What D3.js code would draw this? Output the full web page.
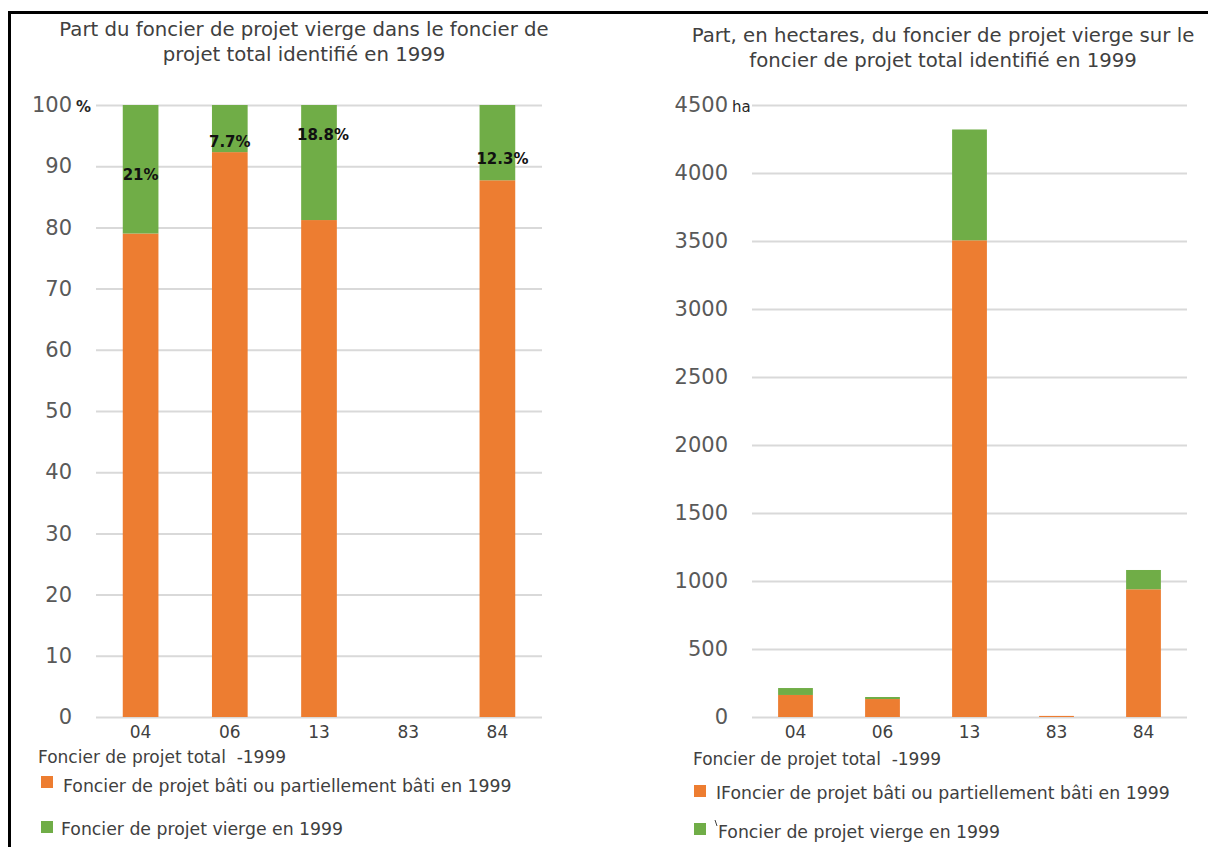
<!DOCTYPE html>
<html>
<head>
<meta charset="utf-8">
<script src="https://cdn.jsdelivr.net/npm/d3@7/dist/d3.min.js"></script>
<style>
  html, body { margin: 0; padding: 0; background: #fff; }
  svg { display: block; font-family: "DejaVu Sans", "Open Sans", sans-serif; }
  .pre { white-space: pre; }
</style>
</head>
<body>
<svg id="chart" width="1208" height="847"></svg>
<script>
// ---------- DATA ----------
const categories = ["04", "06", "13", "83", "84"];

// Left chart: share (%) of total identified project land
const pctBati   = [79.0, 92.3, 81.2, null, 87.7];
const pctVierge = [21.0, 7.7, 18.8, null, 12.3];
const pctLabels = ["21%", "7.7%", "18.8%", null, "12.3%"];
const pctLabelAt = [88.6, 94.0, 95.1, null, 91.2];   // value where each label sits
const pctTicks = [0, 10, 20, 30, 40, 50, 60, 70, 80, 90, 100];

// Right chart: hectares
const haBati   = [162, 132, 3505, 8, 939];
const haVierge = [51, 15, 815, 0, 142];
const haTicks = [0, 500, 1000, 1500, 2000, 2500, 3000, 3500, 4000, 4500];

const seriesNames = ["Foncier de projet bâti ou partiellement bâti en 1999", "Foncier de projet vierge en 1999"];
const axisTitle = "Foncier de projet total  -1999";
const titleLeft = ["Part du foncier de projet vierge dans le foncier de", "projet total identifié en 1999"];
const titleRight = ["Part, en hectares, du foncier de projet vierge sur le", "foncier de projet total identifié en 1999"];

// ---------- STYLE ----------
const ORANGE = "#ED7D31", GREEN = "#70AD47", GRID = "#D9D9D9";
const svg = d3.select("#chart");

// frame lines
svg.append("line").attr("x1", 8).attr("x2", 1208).attr("y1", 12.5).attr("y2", 12.5)
  .attr("stroke", "#000").attr("stroke-width", 3);
svg.append("line").attr("x1", 9.5).attr("x2", 9.5).attr("y1", 11).attr("y2", 847)
  .attr("stroke", "#000").attr("stroke-width", 3);

function drawChart(cfg) {
  const g = svg.append("g");
  const x = d3.scaleBand().domain(categories).range([cfg.x0, cfg.x1])
    .paddingInner(0.6).paddingOuter(0.3);
  const y = d3.scaleLinear().domain([0, cfg.max]).range([717, 105]);

  // title
  g.append("text").attr("x", cfg.titleX).attr("y", cfg.titleY)
    .attr("text-anchor", "middle").attr("fill", "#404040").attr("font-size", 19.7)
    .selectAll("tspan").data(cfg.title).join("tspan")
    .attr("x", cfg.titleX).attr("dy", (d, i) => i ? 25 : 0).text(d => d);

  // grid + y ticks
  const ya = g.append("g").attr("transform", `translate(${cfg.x0},0)`)
    .call(d3.axisLeft(y).tickValues(cfg.ticks).tickFormat(d3.format("d"))
      .tickSize(-(cfg.x1 - cfg.x0)).tickPadding(24));
  ya.select(".domain").remove();
  ya.selectAll(".tick line").attr("stroke", GRID).attr("stroke-width", 2);
  ya.selectAll(".tick text").attr("fill", "#595959").attr("font-size", 21)
    .attr("font-family", "DejaVu Sans");

  // unit label beside top tick
  g.append("text").attr("x", cfg.unitX).attr("y", y(cfg.max)).attr("dy", "0.45em")
    .attr("fill", "#262626").attr("font-size", 15).attr("font-weight", cfg.unitBold ? "bold" : "normal")
    .text(cfg.unit);

  // x axis labels
  const xa = g.append("g").attr("transform", `translate(0,717)`)
    .call(d3.axisBottom(x).tickSize(0).tickPadding(9));
  xa.select(".domain").remove();
  xa.selectAll(".tick text").attr("fill", "#404040").attr("font-size", 17)
    .attr("font-family", "DejaVu Sans");

  // bars
  const rows = categories.map((c, i) => ({ c, a: cfg.a[i], b: cfg.b[i] }));
  g.selectAll(".ba").data(rows.filter(r => r.a != null && r.a > 0)).join("rect")
    .attr("x", d => x(d.c)).attr("width", x.bandwidth())
    .attr("y", d => y(d.a)).attr("height", d => y(0) - y(d.a)).attr("fill", ORANGE);
  g.selectAll(".bb").data(rows.filter(r => r.b != null && r.b > 0)).join("rect")
    .attr("x", d => x(d.c)).attr("width", x.bandwidth())
    .attr("y", d => y(d.a + d.b)).attr("height", d => y(d.a) - y(d.a + d.b)).attr("fill", GREEN);

  // data labels
  if (cfg.labels) {
    const dxs = [0, 0, 4, 0, 5];
    g.selectAll(".lbl").data(categories.map((c, i) => ({ c, t: cfg.labels[i], v: cfg.labelAt[i], dx: dxs[i] }))
      .filter(d => d.t)).join("text")
      .attr("x", d => x(d.c) + x.bandwidth() / 2 + d.dx).attr("y", d => y(d.v)).attr("dy", "0.35em")
      .attr("text-anchor", "middle").attr("font-size", 15).attr("font-weight", "bold").attr("fill", "#111")
      .text(d => d.t);
  }

  // axis title
  g.append("text").attr("class", "pre").attr("x", cfg.axTitleX).attr("y", cfg.axTitleY).attr("dy", "0.35em")
    .attr("fill", "#404040").attr("font-size", 17).text(axisTitle);

  // legend
  const lg = g.selectAll(".leg").data(cfg.legend).join("g");
  lg.append("rect").attr("x", d => d.sx).attr("y", d => d.sy - 6).attr("width", 12).attr("height", 12)
    .attr("fill", d => d.color);
  lg.append("text").attr("x", d => d.tx).attr("y", d => d.ty).attr("dy", "0.35em")
    .attr("fill", "#404040").attr("font-size", 17.3).text(d => d.text);
}

drawChart({
  x0: 96, x1: 542, max: 100, ticks: pctTicks, a: pctBati, b: pctVierge,
  labels: pctLabels, labelAt: pctLabelAt,
  title: titleLeft, titleX: 304, titleY: 36,
  unit: "%", unitX: 76, unitBold: true,
  axTitleX: 38, axTitleY: 757,
  legend: [
    { sx: 41, sy: 782, tx: 63, ty: 786, color: ORANGE, text: seriesNames[0] },
    { sx: 41, sy: 827, tx: 61, ty: 829, color: GREEN, text: seriesNames[1] }
  ]
});

drawChart({
  x0: 752, x1: 1187, max: 4500, ticks: haTicks, a: haBati, b: haVierge,
  labels: null,
  title: titleRight, titleX: 943, titleY: 42,
  unit: "ha", unitX: 732, unitBold: false,
  axTitleX: 693, axTitleY: 759,
  legend: [
    { sx: 694, sy: 791, tx: 716, ty: 793, color: ORANGE, text: "I" + seriesNames[0] },
    { sx: 694, sy: 829, tx: 718, ty: 832, color: GREEN, text: seriesNames[1] }
  ]
});
// small stray mark before the second right legend entry
svg.append("line").attr("x1", 715).attr("y1", 820).attr("x2", 717).attr("y2", 826)
  .attr("stroke", "#404040").attr("stroke-width", 1);
</script>
</body>
</html>
